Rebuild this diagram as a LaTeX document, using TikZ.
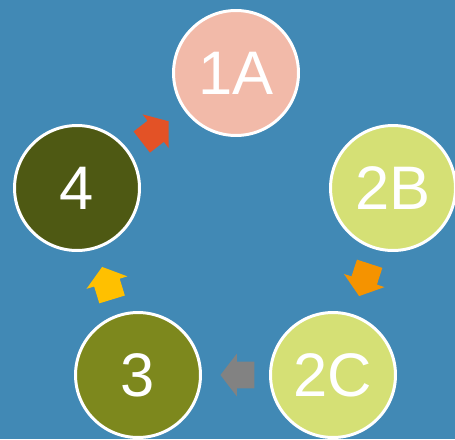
\documentclass[tikz,border=0pt]{standalone}
\usepackage{fontspec}
\setmainfont{Liberation Sans}
\usetikzlibrary{shapes.arrows}
\definecolor{bgblue}{RGB}{65,137,181}
\definecolor{salmon}{RGB}{242,186,169}
\definecolor{lime}{RGB}{213,224,117}
\definecolor{olive}{RGB}{125,136,29}
\definecolor{darkolive}{RGB}{78,89,19}
\definecolor{redarrow}{RGB}{227,82,38}
\definecolor{orangearrow}{RGB}{245,147,0}
\definecolor{grayarrow}{RGB}{130,130,130}
\definecolor{yellowarrow}{RGB}{255,192,0}
\begin{document}
\begin{tikzpicture}[x = 0.02cm, y = -0.02cm,
	stage/.style = {circle, draw = white, line width = 1.7pt, minimum size = 2.5cm, inner sep = 0pt, text = white, font = \fontsize{35}{40}\selectfont},
	blockarrow/.style = {single arrow, draw = none, anchor = tip, inner xsep = 0pt, inner ysep = 0.26cm, minimum height = 0.68cm, single arrow head extend = 0.16cm, single arrow head indent = 0cm, single arrow tip angle = 105}]
	\fill[bgblue] (0,0) rectangle (455,439);
	\useasboundingbox (0,0) rectangle (455,439);
	\clip (0,0) rectangle (455,439);
	\node[stage, fill = salmon] (n1A) at (236,73) {1A};
	\node[stage, fill = lime] (n2B) at (393,188) {2B};
	\node[stage, fill = lime] (n2C) at (333,375) {2C};
	\node[stage, fill = olive] (n3) at (138,375) {3};
	\node[stage, fill = darkolive] (n4) at (77,188) {4};
	% arrows between the stages, placed by their tips
	\node[blockarrow, fill = redarrow, rotate = 37.7] (a41) at (169,121) {};
	\node[blockarrow, fill = orangearrow, rotate = 252] (a22) at (359,296.5) {};
	\node[blockarrow, fill = grayarrow, rotate = 180] (a23) at (220,375) {};
	\node[blockarrow, fill = yellowarrow, rotate = 107] (a34) at (102,266.5) {};
\end{tikzpicture}
\end{document}
